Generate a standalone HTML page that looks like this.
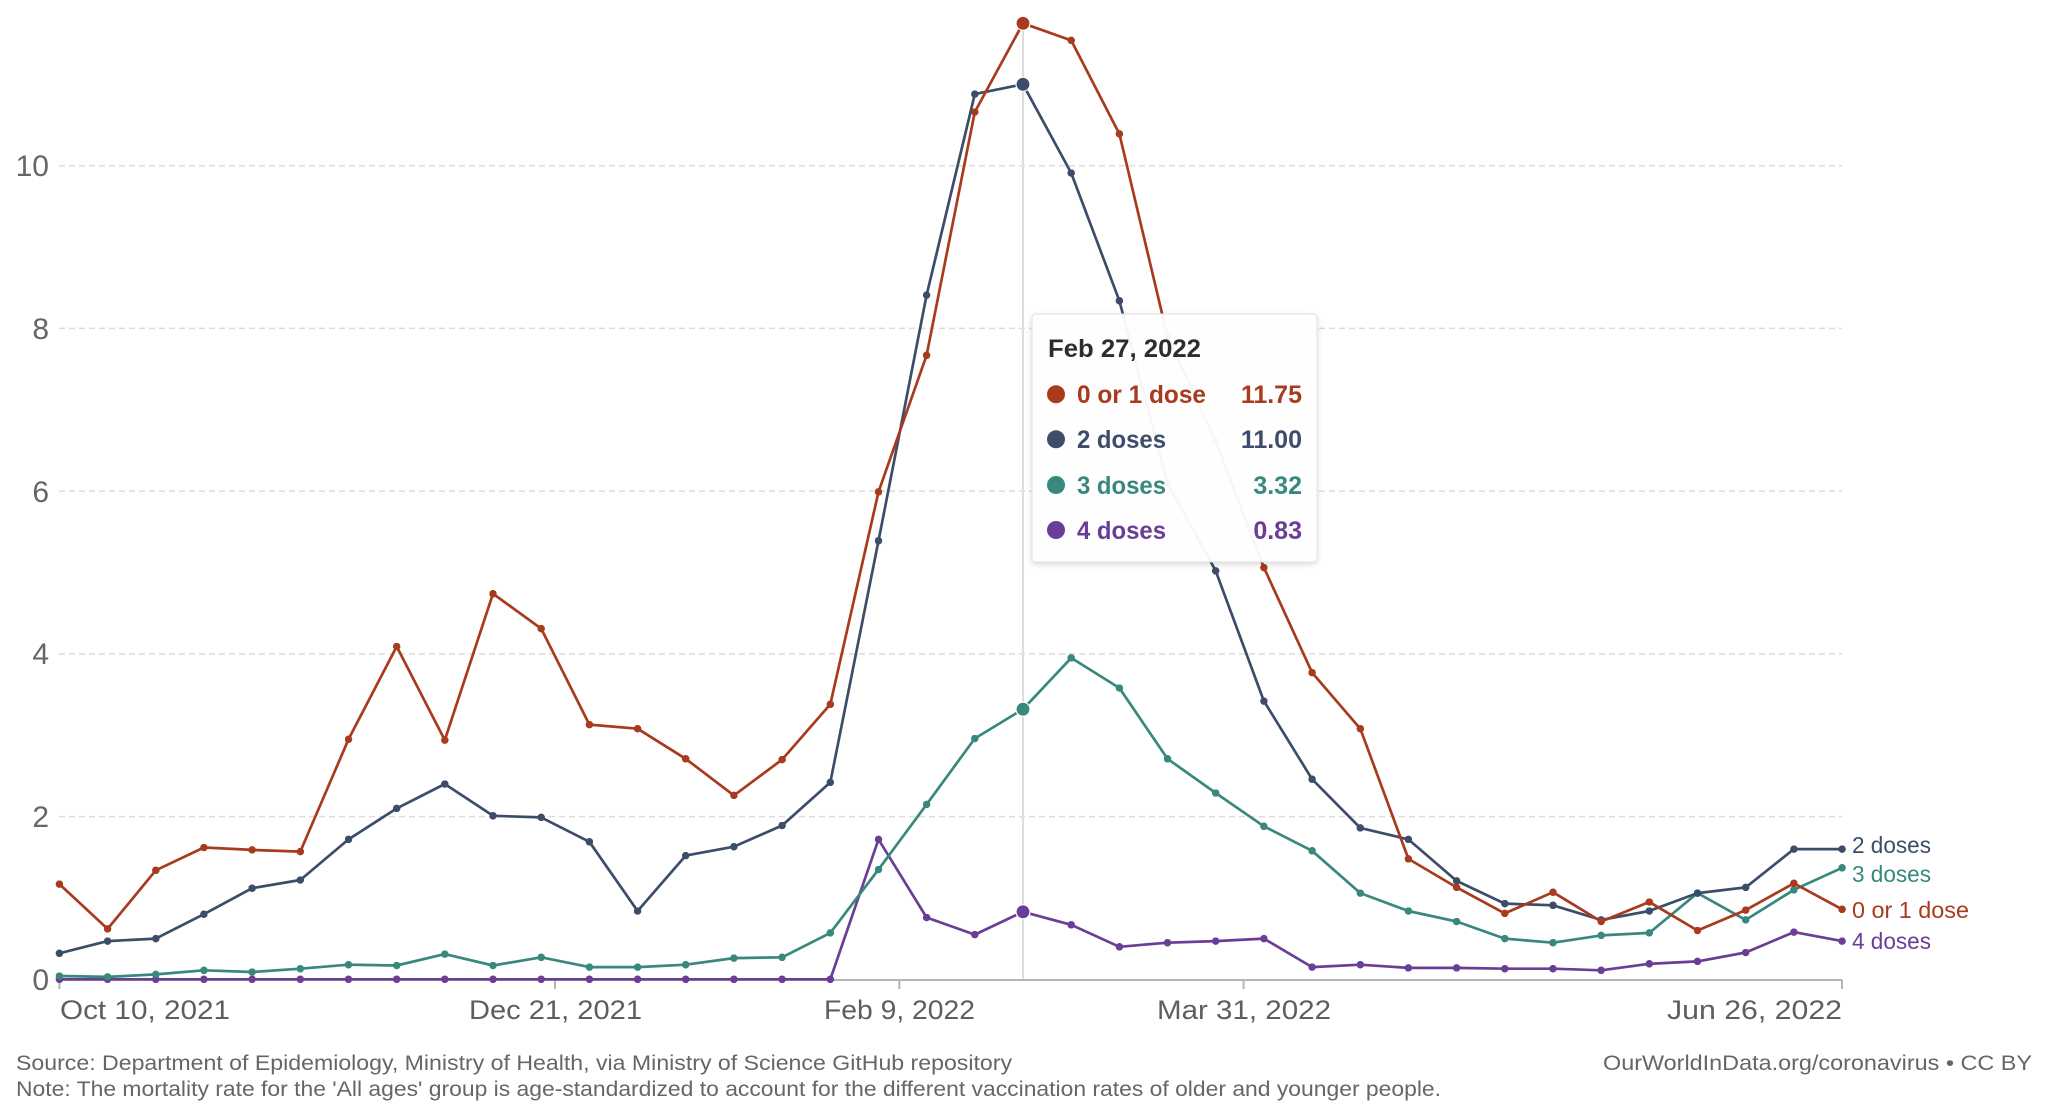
<!DOCTYPE html>
<html>
<head>
<meta charset="utf-8">
<style>
  html,body{margin:0;padding:0;background:#fff;}
  svg{display:block;}
  text{font-family:"Liberation Sans", sans-serif;}
</style>
</head>
<body>
<svg width="2048" height="1111" viewBox="0 0 2048 1111" xmlns="http://www.w3.org/2000/svg">
  <defs>
    <marker id="mr" viewBox="0 0 10 10" refX="5" refY="5" markerWidth="7.5" markerHeight="7.5" markerUnits="userSpaceOnUse"><circle cx="5" cy="5" r="5" fill="#A83A1D"/></marker>
    <marker id="mb" viewBox="0 0 10 10" refX="5" refY="5" markerWidth="7.5" markerHeight="7.5" markerUnits="userSpaceOnUse"><circle cx="5" cy="5" r="5" fill="#3C4D69"/></marker>
    <marker id="mt" viewBox="0 0 10 10" refX="5" refY="5" markerWidth="7.5" markerHeight="7.5" markerUnits="userSpaceOnUse"><circle cx="5" cy="5" r="5" fill="#38887D"/></marker>
    <marker id="mp" viewBox="0 0 10 10" refX="5" refY="5" markerWidth="7.5" markerHeight="7.5" markerUnits="userSpaceOnUse"><circle cx="5" cy="5" r="5" fill="#6A3D96"/></marker>
    <filter id="sh" x="-10%" y="-10%" width="120%" height="125%">
      <feDropShadow dx="0" dy="2" stdDeviation="3" flood-color="#000" flood-opacity="0.15"/>
    </filter>
  </defs>

  <!-- gridlines -->
  <g stroke="#dcdcdc" stroke-width="1.5" stroke-dasharray="6,4">
    <line x1="59" y1="816.6" x2="1842" y2="816.6"/>
    <line x1="59" y1="653.9" x2="1842" y2="653.9"/>
    <line x1="59" y1="491.1" x2="1842" y2="491.1"/>
    <line x1="59" y1="328.4" x2="1842" y2="328.4"/>
    <line x1="59" y1="165.7" x2="1842" y2="165.7"/>
  </g>

  <!-- y labels -->
  <g fill="#666" font-size="30" text-anchor="end">
    <text x="49" y="990">0</text>
    <text x="49" y="827">2</text>
    <text x="49" y="664">4</text>
    <text x="49" y="502">6</text>
    <text x="49" y="339">8</text>
    <text x="49" y="176">10</text>
  </g>

  <!-- hover line -->
  <line x1="1023" y1="24" x2="1023" y2="979" stroke="#dddddd" stroke-width="2"/>

  <!-- axis -->
  <line x1="59" y1="980" x2="1842" y2="980" stroke="#b5b5b5" stroke-width="2"/>
  <g stroke="#b5b5b5" stroke-width="2">
    <line x1="59.4" y1="980" x2="59.4" y2="989"/>
    <line x1="555" y1="980" x2="555" y2="989"/>
    <line x1="899.3" y1="980" x2="899.3" y2="989"/>
    <line x1="1243.6" y1="980" x2="1243.6" y2="989"/>
    <line x1="1842" y1="980" x2="1842" y2="989"/>
  </g>
  <g fill="#5e5e5e" font-size="27">
    <text x="60" y="1019" textLength="170" lengthAdjust="spacingAndGlyphs">Oct 10, 2021</text>
    <text x="469" y="1019" textLength="173" lengthAdjust="spacingAndGlyphs">Dec 21, 2021</text>
    <text x="824" y="1019" textLength="151" lengthAdjust="spacingAndGlyphs">Feb 9, 2022</text>
    <text x="1157" y="1019" textLength="174" lengthAdjust="spacingAndGlyphs">Mar 31, 2022</text>
    <text x="1667" y="1019" textLength="175" lengthAdjust="spacingAndGlyphs">Jun 26, 2022</text>
  </g>

  <!-- series -->
  <g fill="none" stroke-width="2.7" stroke-linejoin="round">
    <polyline stroke="#6A3D96" marker-start="url(#mp)" marker-mid="url(#mp)" marker-end="url(#mp)" points="59.4,979.3 107.6,979.3 155.8,979.3 203.9,979.3 252.1,979.3 300.3,979.3 348.5,979.3 396.7,979.3 444.8,979.3 493.0,979.3 541.2,979.3 589.4,979.3 637.6,979.3 685.7,979.3 733.9,979.3 782.1,979.3 830.3,979.3 878.5,839.4 926.6,917.5 974.8,934.6 1023.0,911.8 1071.2,924.8 1119.4,946.8 1167.5,942.7 1215.7,941.1 1263.9,938.6 1312.1,967.1 1360.3,964.7 1408.4,967.9 1456.6,967.9 1504.8,968.7 1553.0,968.7 1601.2,970.3 1649.3,963.8 1697.5,961.4 1745.7,952.5 1793.9,932.1 1842.1,941.1"/>
    <polyline stroke="#38887D" marker-start="url(#mt)" marker-mid="url(#mt)" marker-end="url(#mt)" points="59.4,976.0 107.6,976.9 155.8,974.4 203.9,970.3 252.1,972.0 300.3,968.7 348.5,964.7 396.7,965.5 444.8,954.1 493.0,965.5 541.2,957.3 589.4,967.1 637.6,967.1 685.7,964.7 733.9,958.1 782.1,957.3 830.3,932.9 878.5,869.5 926.6,804.4 974.8,738.5 1023.0,709.2 1071.2,657.9 1119.4,688.0 1167.5,758.8 1215.7,793.0 1263.9,826.3 1312.1,850.8 1360.3,893.1 1408.4,911.0 1456.6,921.5 1504.8,938.6 1553.0,942.7 1601.2,935.4 1649.3,932.9 1697.5,893.1 1745.7,919.9 1793.9,889.8 1842.1,867.8"/>
    <polyline stroke="#3C4D69" marker-start="url(#mb)" marker-mid="url(#mb)" marker-end="url(#mb)" points="59.4,953.3 107.6,941.1 155.8,938.6 203.9,914.2 252.1,888.2 300.3,880.0 348.5,839.4 396.7,808.4 444.8,784.0 493.0,815.8 541.2,817.4 589.4,841.8 637.6,911.0 685.7,855.6 733.9,846.7 782.1,825.5 830.3,782.4 878.5,540.8 926.6,295.1 974.8,94.1 1023.0,84.3 1071.2,173.0 1119.4,300.8 1167.5,483.0 1215.7,570.9 1263.9,701.1 1312.1,779.2 1360.3,827.9 1408.4,839.4 1456.6,880.9 1504.8,903.6 1553.0,905.3 1601.2,919.9 1649.3,911.0 1697.5,893.1 1745.7,887.4 1793.9,849.1 1842.1,849.1"/>
    <polyline stroke="#A83A1D" marker-start="url(#mr)" marker-mid="url(#mr)" marker-end="url(#mr)" points="59.4,884.1 107.6,928.9 155.8,870.3 203.9,847.5 252.1,849.9 300.3,851.6 348.5,739.3 396.7,646.5 444.8,740.1 493.0,593.7 541.2,628.6 589.4,724.6 637.6,728.7 685.7,758.8 733.9,795.4 782.1,759.6 830.3,704.3 878.5,491.9 926.6,355.3 974.8,112.0 1023.0,23.3 1071.2,40.4 1119.4,133.9 1167.5,336.6 1215.7,441.5 1263.9,567.6 1312.1,672.6 1360.3,728.7 1408.4,858.9 1456.6,887.4 1504.8,913.4 1553.0,892.2 1601.2,921.5 1649.3,902.0 1697.5,930.5 1745.7,910.1 1793.9,883.3 1842.1,909.3"/>
  </g>

  <!-- highlight dots -->
  <g stroke="#fff" stroke-width="1.2">
    <circle cx="1023" cy="23.3" r="7" fill="#A83A1D"/>
    <circle cx="1023" cy="84.3" r="7" fill="#3C4D69"/>
    <circle cx="1023" cy="709.2" r="7" fill="#38887D"/>
    <circle cx="1023" cy="911.8" r="7" fill="#6A3D96"/>
  </g>

  <!-- end labels -->
  <g font-size="23">
    <text x="1852" y="853" fill="#3C4D69" textLength="79" lengthAdjust="spacingAndGlyphs">2 doses</text>
    <text x="1852" y="882" fill="#38887D" textLength="79" lengthAdjust="spacingAndGlyphs">3 doses</text>
    <text x="1852" y="918" fill="#A83A1D" textLength="117" lengthAdjust="spacingAndGlyphs">0 or 1 dose</text>
    <text x="1852" y="949" fill="#6A3D96" textLength="79" lengthAdjust="spacingAndGlyphs">4 doses</text>
  </g>

  <!-- tooltip -->
  <rect x="1032" y="314" width="285" height="248" rx="4" ry="4" fill="#fff" fill-opacity="0.95" stroke="#e2e2e2" stroke-width="1" filter="url(#sh)"/>
  <text x="1048" y="357" font-size="25" font-weight="bold" fill="#2d2d2d" textLength="153" lengthAdjust="spacingAndGlyphs">Feb 27, 2022</text>
  <g font-size="25" font-weight="bold">
    <circle cx="1056" cy="394.3" r="9" fill="#A83A1D"/>
    <text x="1077" y="403" fill="#A83A1D" textLength="129" lengthAdjust="spacingAndGlyphs">0 or 1 dose</text>
    <text x="1302" y="403" fill="#A83A1D" text-anchor="end">11.75</text>
    <circle cx="1056" cy="439.3" r="9" fill="#3C4D69"/>
    <text x="1077" y="448" fill="#3C4D69" textLength="89" lengthAdjust="spacingAndGlyphs">2 doses</text>
    <text x="1302" y="448" fill="#3C4D69" text-anchor="end">11.00</text>
    <circle cx="1056" cy="485" r="9" fill="#38887D"/>
    <text x="1077" y="494" fill="#38887D" textLength="89" lengthAdjust="spacingAndGlyphs">3 doses</text>
    <text x="1302" y="494" fill="#38887D" text-anchor="end">3.32</text>
    <circle cx="1056" cy="530" r="9" fill="#6A3D96"/>
    <text x="1077" y="539" fill="#6A3D96" textLength="89" lengthAdjust="spacingAndGlyphs">4 doses</text>
    <text x="1302" y="539" fill="#6A3D96" text-anchor="end">0.83</text>
  </g>

  <!-- footer -->
  <g fill="#666" font-size="21">
    <text x="16" y="1070" textLength="996" lengthAdjust="spacingAndGlyphs">Source: Department of Epidemiology, Ministry of Health, via Ministry of Science GitHub repository</text>
    <text x="16" y="1096" textLength="1425" lengthAdjust="spacingAndGlyphs">Note: The mortality rate for the 'All ages' group is age-standardized to account for the different vaccination rates of older and younger people.</text>
    <text x="2032" y="1070" text-anchor="end" textLength="429" lengthAdjust="spacingAndGlyphs">OurWorldInData.org/coronavirus • CC BY</text>
  </g>
</svg>
</body>
</html>
